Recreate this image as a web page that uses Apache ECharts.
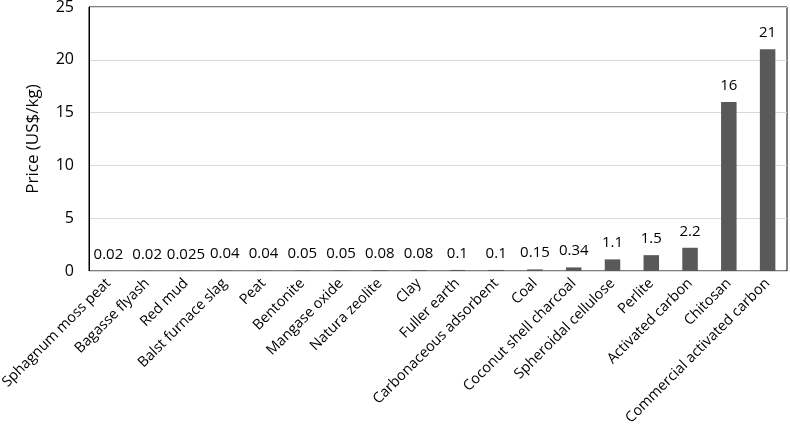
<!DOCTYPE html>
<html>
<head>
<meta charset="utf-8">
<script src="https://cdn.jsdelivr.net/npm/echarts@6/dist/echarts.min.js"></script>
<style>
  html, body { margin: 0; padding: 0; background: #fff; }
  #chart { width: 790px; height: 437px; }
</style>
</head>
<body>
<div id="chart"></div>
<script>
const categories = [
  'Sphagnum moss peat', 'Bagasse flyash', 'Red mud', 'Balst furnace slag', 'Peat',
  'Bentonite', 'Mangase oxide', 'Natura zeolite', 'Clay', 'Fuller earth',
  'Carbonaceous adsorbent', 'Coal', 'Coconut shell charcoal', 'Spheroidal cellulose',
  'Perlite', 'Activated carbon', 'Chitosan', 'Commercial activated carbon'
]
const prices = [0.02, 0.02, 0.025, 0.04, 0.04, 0.05, 0.05, 0.08, 0.08, 0.1, 0.1, 0.15, 0.34, 1.1, 1.5, 2.2, 16, 21]
const yTicks = [0, 5, 10, 15, 20, 25]

const font = 'Open Sans'
const chart = echarts.init(document.getElementById('chart'))

// box round the plot: black on three sides, the x axis line is grey on top of it
const option = {
  animation: false,
  grid: {
    left: 89, right: 3, top: 7, bottom: 166,
    containLabel: false, outerBoundsMode: 'none',
    show: true, borderColor: '#000', borderWidth: 1, backgroundColor: 'transparent'
  },
  xAxis: {
    type: 'category',
    data: categories,
    axisLine: { onZero: false, lineStyle: { color: '#d9d9d9', width: 1 } },
    axisTick: { show: false },
    axisLabel: {
      interval: 0,
      rotate: 45,
      margin: 10,
      color: '#000',
      fontSize: 14.5,
      fontFamily: font
    }
  },
  yAxis: {
    type: 'value',
    min: yTicks[0],
    max: yTicks[yTicks.length - 1],
    interval: 5,
    name: 'Price (US$/kg)',
    nameLocation: 'middle',
    nameGap: 47,
    nameTextStyle: { color: '#000', fontSize: 17, fontFamily: font },
    axisLine: { show: true, onZero: false, lineStyle: { color: '#000', width: 1 } },
    axisTick: { show: false },
    axisLabel: { color: '#000', fontSize: 16, fontFamily: font, margin: 15 },
    splitLine: { lineStyle: { color: '#d9d9d9', width: 1 } }
  },
  series: [
    {
      type: 'bar',
      data: prices,
      barWidth: '40%',
      itemStyle: { color: '#595959' },
      label: {
        show: true,
        position: 'top',
        distance: 9,
        color: '#000',
        fontSize: 15,
        fontFamily: font
      }
    }
  ]
}

chart.setOption(option)
</script>
</body>
</html>
